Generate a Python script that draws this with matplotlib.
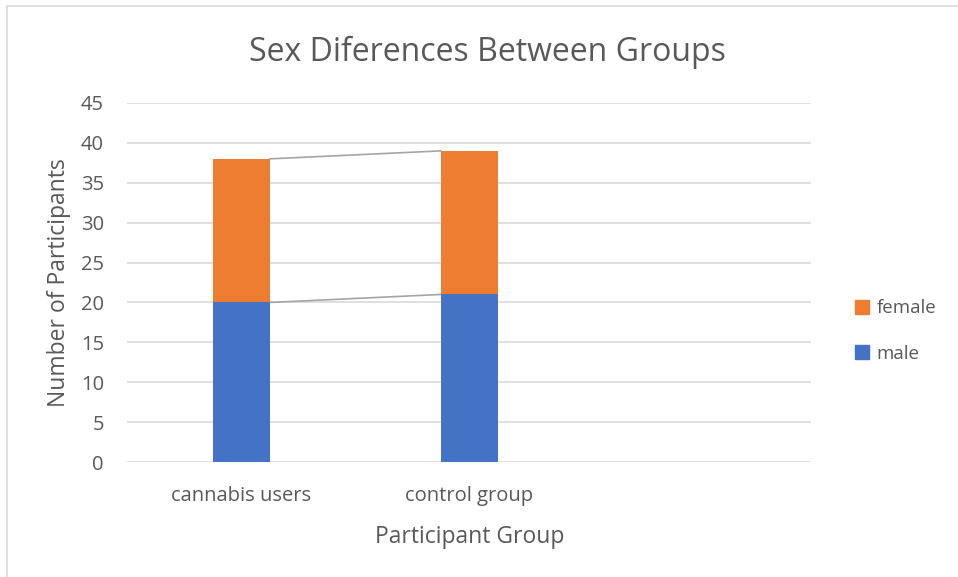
import matplotlib
matplotlib.use("Agg")
import matplotlib.pyplot as plt
from matplotlib.patches import Rectangle, Patch

# Data
groups = ["cannabis users", "control group", ""]
male = [20, 21, 0]
female = [18, 18, 0]
yticks = [0, 5, 10, 15, 20, 25, 30, 35, 40, 45]

TEXT = "#595959"
BLUE = "#4472C4"
ORANGE = "#ED7D31"
GRID = "#D9D9D9"
LINE = "#A5A5A5"
FONT = ["Open Sans", "DejaVu Sans"]

plt.rcParams["font.family"] = FONT

fig = plt.figure(figsize=(9.58, 5.77), dpi=100)
ax = fig.add_axes([127.5 / 958, 1 - 462 / 577, 684 / 958, 359 / 577])

# Chart border
fig.patches.append(Rectangle((6.5 / 958, -0.01), 1.0, (577 - 5.5) / 577 + 0.01,
                             transform=fig.transFigure, fill=False,
                             edgecolor=GRID, linewidth=1.2, zorder=0))

n = 2  # populated categories
x = list(range(len(groups)))
width = 0.25
ax.bar(x[:n], male[:n], width=width, color=BLUE, zorder=3, label="male")
ax.bar(x[:n], female[:n], width=width, bottom=male[:n], color=ORANGE, zorder=3, label="female")

# Series lines between stacked segments
tops_male = male[:n]
tops_total = [m + f for m, f in zip(male[:n], female[:n])]
for tops in (tops_male, tops_total):
    ax.plot([x[0] + width / 2, x[1] - width / 2], [tops[0], tops[1]],
            color=LINE, linewidth=1.2, zorder=2)

ax.set_xlim(-0.5, len(groups) - 0.5)
ax.set_ylim(0, 45)
ax.set_yticks(yticks)
ax.set_xticks(x)
ax.set_xticklabels(groups)
ax.yaxis.grid(True, color=GRID, linewidth=1.2, zorder=0)
ax.set_axisbelow(True)
for s in ax.spines.values():
    s.set_visible(False)
ax.tick_params(axis="both", length=0, colors=TEXT, labelsize=14.5)
ax.tick_params(axis="x", pad=17)
ax.tick_params(axis="y", pad=17)

ax.set_ylabel("Number of Participants", fontsize=16.5, color=TEXT, labelpad=7)
ax.set_xlabel("Participant Group", fontsize=16.5, color=TEXT, labelpad=14)
fig.text(487 / 958, 1 - 52 / 577, "Sex Diferences Between Groups",
         ha="center", va="center", fontsize=23, color=TEXT)

handles = [Patch(color=ORANGE), Patch(color=BLUE)]
fig.legend(handles, ["female", "male"], loc="center left",
           bbox_to_anchor=(838 / 958, 1 - 331 / 577), frameon=False,
           handlelength=0.75, handleheight=0.75, handletextpad=0.4,
           labelspacing=1.45, fontsize=13.5, labelcolor=TEXT)

fig.savefig("out.png", dpi=100, facecolor="white")
